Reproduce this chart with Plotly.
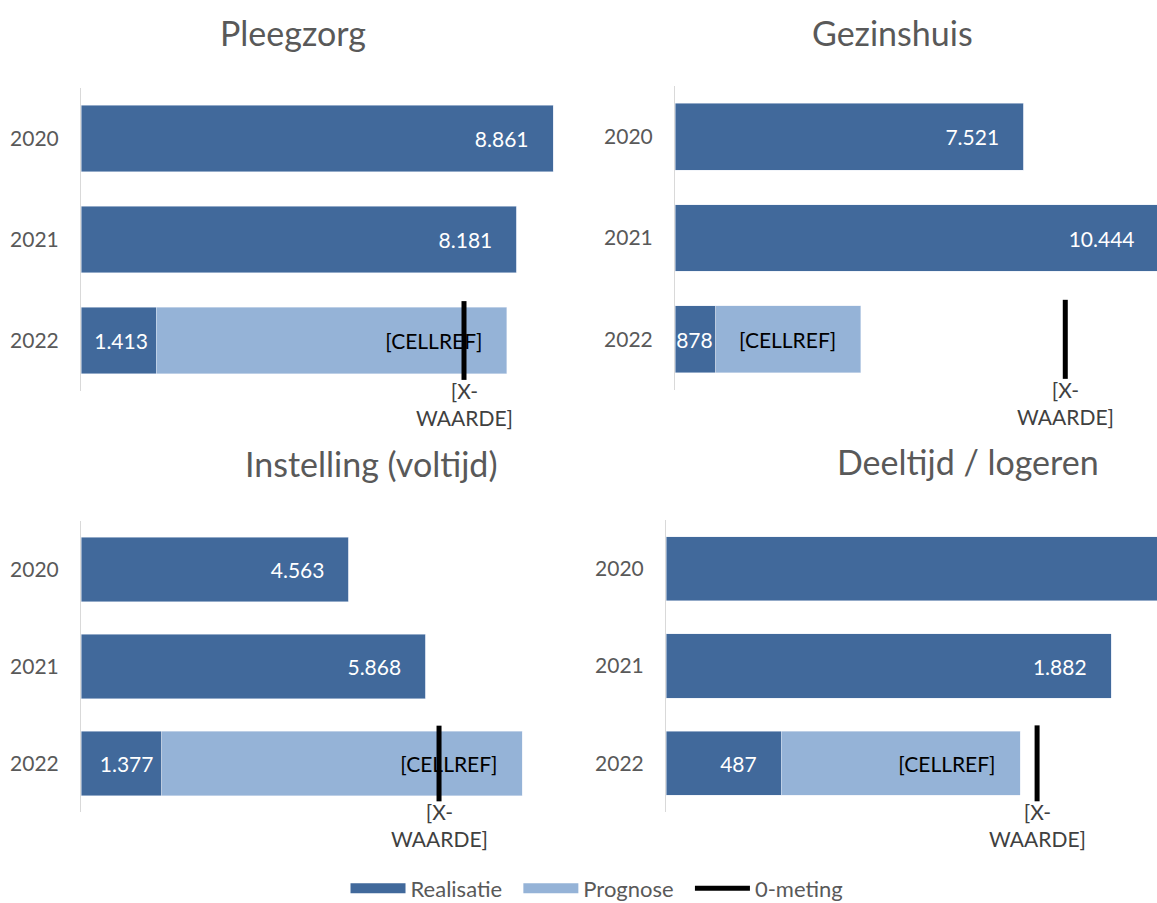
import plotly.graph_objects as go

W, H = 1157, 903

years = ["2020", "2021", "2022"]
titles = ["Pleegzorg", "Gezinshuis", "Instelling (voltijd)", "Deeltijd / logeren"]

# realisatie per jaar
real_pleegzorg = [8861, 8181, 1413]
real_gezinshuis = [7521, 10444, 878]
real_instelling = [4563, 5868, 1377]
real_deeltijd = [2400, 1882, 487]

# prognose (alleen 2022)
prog_pleegzorg = [0, 0, 6584]
prog_gezinshuis = [0, 0, 3129]
prog_instelling = [0, 0, 6132]
prog_deeltijd = [0, 0, 1010]

# 0-meting
nul_meting = [7190, 8421, 6096, 1569]

realisaties = [real_pleegzorg, real_gezinshuis, real_instelling, real_deeltijd]
prognoses = [prog_pleegzorg, prog_gezinshuis, prog_instelling, prog_deeltijd]

col_real = "#41699b"
col_prog = "#95b3d7"
grey = "#595959"
font = "Lato"

# panel geometry in pixels: left, right, top, bottom, x-max
panels = [
    (81, 570, 88, 391, 9180),
    (675, 1157, 86, 390, 10400),
    (81, 570, 521, 812, 8326),
    (666, 1157, 520, 812, 2076),
]
title_pos = [(293, 32), (892, 32), (371, 463), (968, 461)]

fig = go.Figure()
ypos = list(range(len(years)))
pad = "\u00a0" * 4


def label_pad(v, xmax, l, r):
    # Excel zet het label met wat ruimte aan het eind van de balk, tenzij de balk te smal is
    px = v / xmax * (r - l)
    if px > 100:
        return pad
    if px > 60:
        return "\u00a0"
    return ""


for i in range(4):
    ax = "" if i == 0 else str(i + 1)
    real = realisaties[i]
    prog = prognoses[i]
    l, r, t, b, xmax = panels[i]
    real_tt = []
    for v in real:
        if v > xmax * 1.05:
            real_tt.append("")  # label valt buiten de grafiek
        else:
            real_tt.append("%{x:,.0f}" + label_pad(v, xmax, l, r))
    fig.add_trace(go.Bar(
        y=ypos, x=real, orientation="h", marker_color=col_real, width=0.66,
        texttemplate=real_tt, textposition="inside", insidetextanchor="end",
        textfont=dict(color="white", size=21, family=font), textangle=0,
        showlegend=False, hoverinfo="skip", xaxis="x" + ax, yaxis="y" + ax))
    prog_text = ["" if v == 0 else "[CELLREF]" + pad for v in prog]
    fig.add_trace(go.Bar(
        y=ypos, x=prog, orientation="h", marker_color=col_prog, width=0.66,
        text=prog_text, texttemplate="%{text}", textposition="inside", insidetextanchor="end",
        textfont=dict(color="black", size=21, family=font), textangle=0,
        showlegend=False, hoverinfo="skip", xaxis="x" + ax, yaxis="y" + ax))
    fig.add_trace(go.Scatter(
        x=[nul_meting[i], nul_meting[i]], y=[2 - 0.39, 2 + 0.39], mode="lines",
        line=dict(color="black", width=5), showlegend=False, hoverinfo="skip",
        xaxis="x" + ax, yaxis="y" + ax))
    fig.add_annotation(x=nul_meting[i], y=2.35, xref="x" + ax, yref="y" + ax,
                       text="[X-<br>WAARDE]", showarrow=False, yanchor="top",
                       font=dict(size=21, color="#404040", family=font))

    fig.update_layout(**{
        "xaxis" + ax: dict(domain=[l / W, r / W], range=[0, xmax], visible=False,
                           anchor="y" + ax),
        "yaxis" + ax: dict(domain=[1 - b / H, 1 - t / H], range=[2.5, -0.5],
                           tickvals=ypos, ticktext=years, showline=True,
                           linecolor="#d9d9d9", linewidth=1, showgrid=False,
                           zeroline=False, ticks="", ticklabelstandoff=17,
                           tickfont=dict(size=21, color=grey, family=font),
                           anchor="x" + ax),
    })
    tx, ty = title_pos[i]
    fig.add_annotation(x=tx / W, y=1 - ty / H, xref="paper", yref="paper",
                       text=titles[i], showarrow=False, xanchor="center", yanchor="middle",
                       font=dict(size=34, color=grey, family=font))

# legend entries
fig.add_trace(go.Scatter(x=[None], y=[None], mode="lines", name="Realisatie\u00a0\u00a0",
                         line=dict(color=col_real, width=13)))
fig.add_trace(go.Scatter(x=[None], y=[None], mode="lines", name="Prognose\u00a0\u00a0",
                         line=dict(color=col_prog, width=13)))
fig.add_trace(go.Scatter(x=[None], y=[None], mode="lines", name="0-meting",
                         line=dict(color="black", width=5)))

fig.update_layout(
    width=W, height=H, margin=dict(l=0, r=0, t=0, b=0, autoexpand=False),
    plot_bgcolor="white", paper_bgcolor="white",
    barmode="stack", separators=",.",
    font=dict(family=font, color=grey),
    uniformtext=dict(minsize=21, mode="show"),
    legend=dict(orientation="h", x=0.516, xanchor="center", y=0.016, yanchor="middle",
                font=dict(size=22, color=grey, family=font), itemwidth=55,
                traceorder="normal"),
)

fig.write_html("out.html", config={"displayModeBar": False},
               post_script="document.body.style.margin='0';")
